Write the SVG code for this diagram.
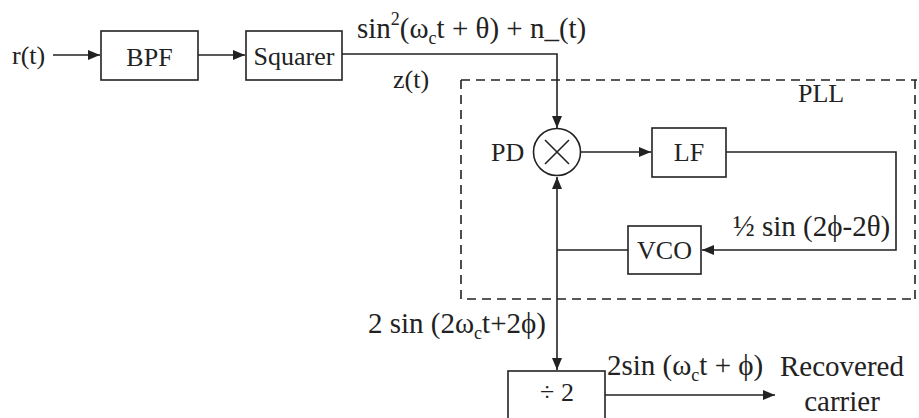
<svg xmlns="http://www.w3.org/2000/svg" width="919" height="418" viewBox="0 0 919 418">
<style>
text{font-family:"Liberation Serif","Times New Roman",serif;font-size:26px;fill:#222}
.f{font-size:29px}
.box{fill:#fff;stroke:#222;stroke-width:1.6}
.ln{fill:none;stroke:#222;stroke-width:1.6}
.dash{fill:none;stroke:#222;stroke-width:1.6;stroke-dasharray:9 6}
.sub{font-size:18px}
.mid{text-anchor:middle}
</style>
<defs>
<marker id="ah" viewBox="0 0 12 10" refX="12" refY="5" markerWidth="12" markerHeight="10" markerUnits="userSpaceOnUse" orient="auto">
<path d="M0,0 L12,5 L0,10 Z" fill="#222"/>
</marker>
</defs>
<rect width="919" height="418" fill="#fff"/>

<g id="pll-frame">
<path class="dash" d="M461,80 H917 M461,80 V299 H917 M915,80 V299"/>
<text x="798" y="102" font-size="27">PLL</text>
</g>

<g id="connectors">
<line class="ln" x1="53" y1="55" x2="100" y2="55" marker-end="url(#ah)"/>
<line class="ln" x1="198" y1="55" x2="245" y2="55" marker-end="url(#ah)"/>
<polyline class="ln" points="342,54 557,54 557,128" marker-end="url(#ah)"/>
<line class="ln" x1="580" y1="152" x2="651" y2="152" marker-end="url(#ah)"/>
<polyline class="ln" points="726,152 896,152 896,250 702,250" marker-end="url(#ah)"/>
<line class="ln" x1="628" y1="250" x2="557" y2="250"/>
<line class="ln" x1="557" y1="250" x2="557" y2="177" marker-end="url(#ah)"/>
<line class="ln" x1="557" y1="250" x2="557" y2="370" marker-end="url(#ah)"/>
<line class="ln" x1="605" y1="395" x2="775" y2="395" marker-end="url(#ah)"/>
</g>

<g id="input">
<text x="12" y="64">r(t)</text>
</g>

<g id="bpf">
<rect class="box" x="101" y="31" width="97" height="49"/>
<text class="mid" x="149.5" y="66">BPF</text>
</g>

<g id="squarer">
<rect class="box" x="246" y="31" width="96" height="49"/>
<text class="mid" x="294" y="65" font-size="27">Squarer</text>
</g>

<g id="labels-top">
<text class="f" x="357" y="38">sin<tspan class="sub" dy="-13">2</tspan><tspan dy="13">(ω</tspan><tspan class="sub" dy="6">c</tspan><tspan dy="-6">t + θ) + n_(t)</tspan></text>
<text x="393" y="88" font-size="27">z(t)</text>
</g>

<g id="pd">
<circle class="box" cx="557" cy="152" r="23.5"/>
<path class="ln" d="M545,140 L569,164 M569,140 L545,164"/>
<text x="491" y="161" font-size="27">PD</text>
</g>

<g id="lf">
<rect class="box" x="652" y="128" width="74" height="49"/>
<text class="mid" x="689" y="161" font-size="27">LF</text>
</g>

<g id="vco">
<rect class="box" x="628" y="226" width="73" height="48"/>
<text class="mid" x="664.5" y="259" font-size="27">VCO</text>
</g>

<g id="loop-label">
<text class="f" x="733" y="236">½ sin (2ϕ-2θ)</text>
</g>

<g id="div2">
<rect class="box" x="508" y="371" width="97" height="60"/>
<text class="mid" x="557" y="401" font-size="28">÷ 2</text>
</g>

<g id="labels-bottom">
<text class="f" x="368" y="333">2 sin (2ω<tspan class="sub" dy="6">c</tspan><tspan dy="-6">t+2ϕ)</tspan></text>
<text class="f" x="607" y="375">2sin (ω<tspan class="sub" dy="6">c</tspan><tspan dy="-6">t + ϕ)</tspan></text>
<text class="mid f" x="842" y="376">Recovered</text>
<text class="mid f" x="842" y="411">carrier</text>
</g>
</svg>
